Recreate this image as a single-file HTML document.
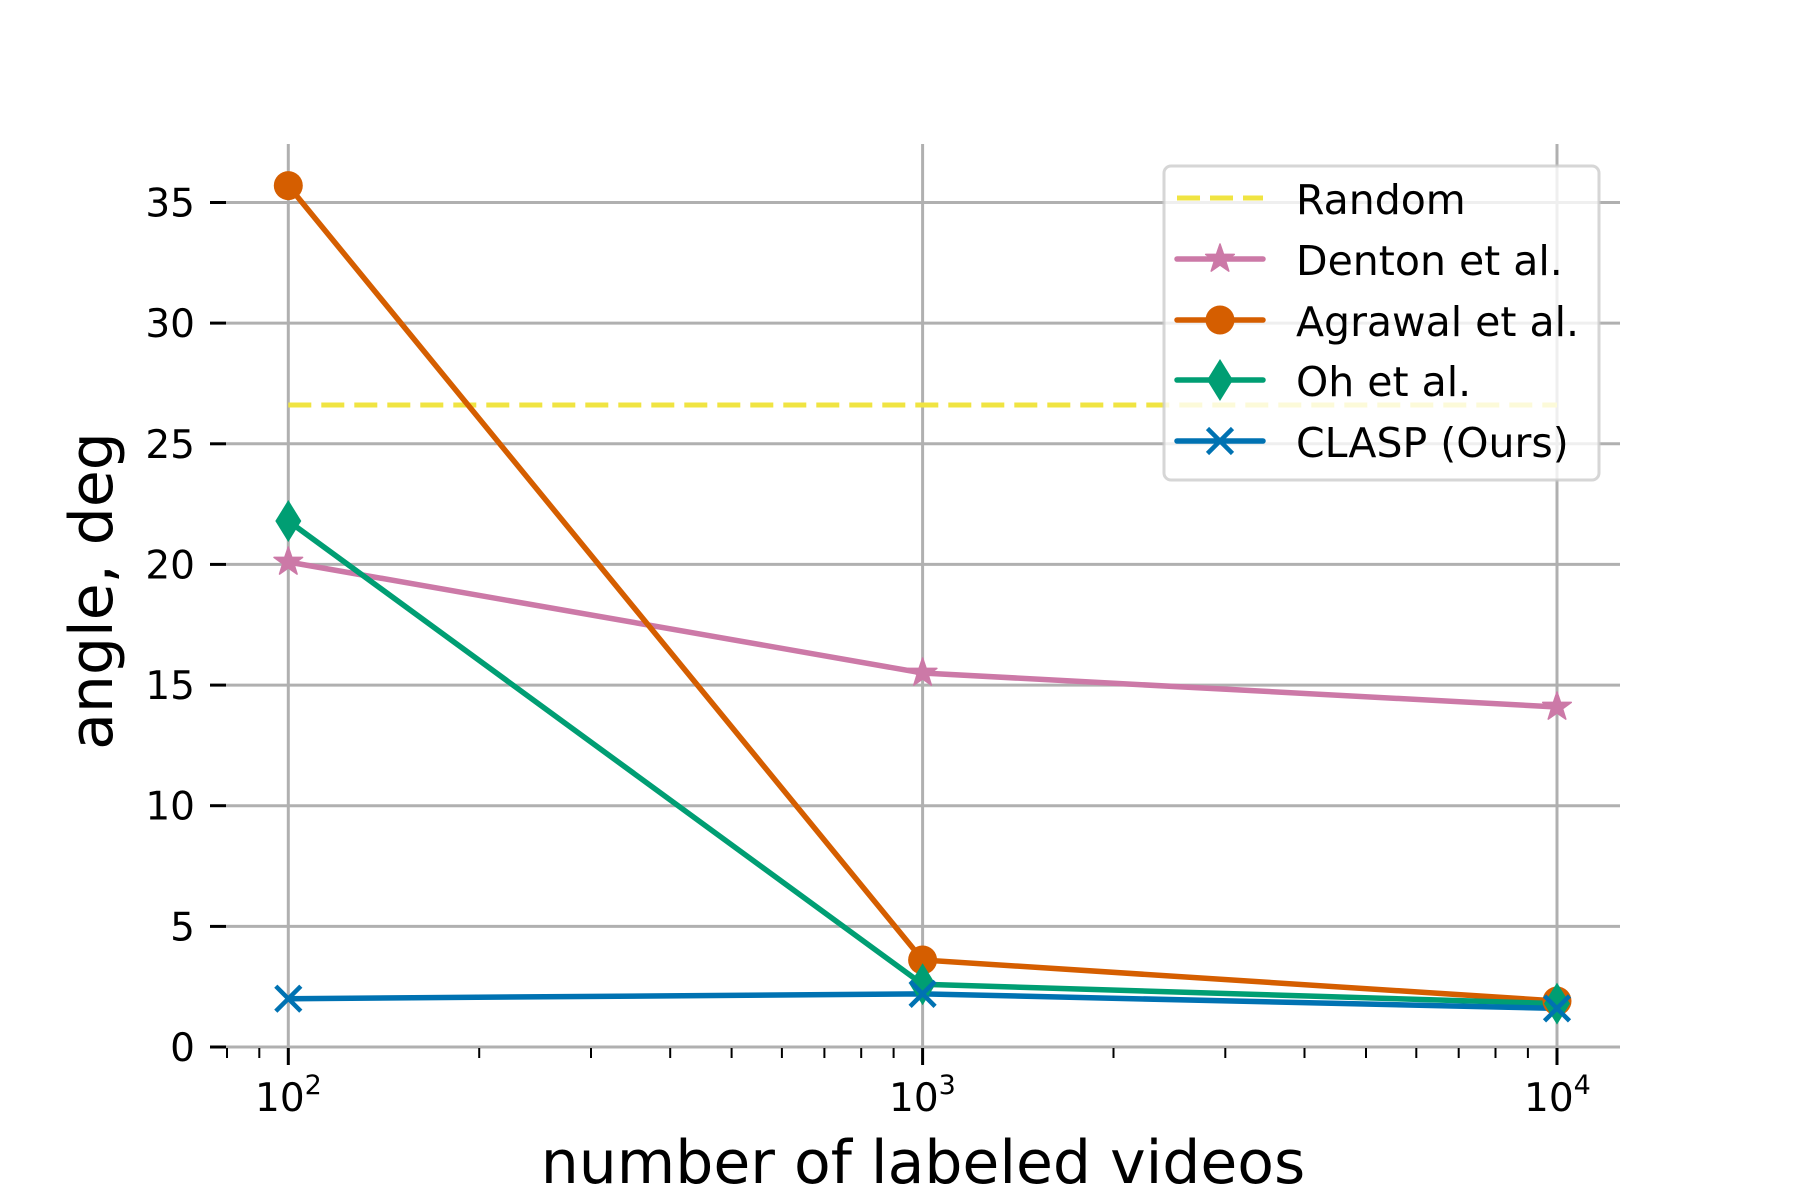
<!DOCTYPE html>
<html><head><meta charset="utf-8"><style>
html,body{margin:0;padding:0;background:#fff;}
svg{display:block;font-family:"DejaVu Sans","Liberation Sans",sans-serif;}
</style></head><body>
<svg width="1800" height="1200" viewBox="0 0 1800 1200" xmlns="http://www.w3.org/2000/svg">
<rect width="1800" height="1200" fill="#fff"/>
<g stroke="#b0b0b0" stroke-width="3">
<line x1="226" y1="1047" x2="1620" y2="1047"/>
<line x1="226" y1="926.4" x2="1620" y2="926.4"/>
<line x1="226" y1="805.7" x2="1620" y2="805.7"/>
<line x1="226" y1="685.1" x2="1620" y2="685.1"/>
<line x1="226" y1="564.4" x2="1620" y2="564.4"/>
<line x1="226" y1="443.8" x2="1620" y2="443.8"/>
<line x1="226" y1="323.1" x2="1620" y2="323.1"/>
<line x1="226" y1="202.5" x2="1620" y2="202.5"/>
<line x1="288.3" y1="144" x2="288.3" y2="1047"/>
<line x1="922.6" y1="144" x2="922.6" y2="1047"/>
<line x1="1557" y1="144" x2="1557" y2="1047"/>
</g>
<g stroke="#000" stroke-width="3">
<line x1="210" y1="1047" x2="226" y2="1047"/>
<line x1="210" y1="926.4" x2="226" y2="926.4"/>
<line x1="210" y1="805.7" x2="226" y2="805.7"/>
<line x1="210" y1="685.1" x2="226" y2="685.1"/>
<line x1="210" y1="564.4" x2="226" y2="564.4"/>
<line x1="210" y1="443.8" x2="226" y2="443.8"/>
<line x1="210" y1="323.1" x2="226" y2="323.1"/>
<line x1="210" y1="202.5" x2="226" y2="202.5"/>
</g>
<g stroke="#000" stroke-width="3">
<line x1="288.3" y1="1048" x2="288.3" y2="1065"/>
<line x1="922.6" y1="1048" x2="922.6" y2="1065"/>
<line x1="1557" y1="1048" x2="1557" y2="1065"/>
</g>
<g stroke="#000" stroke-width="2">
<line x1="227" y1="1048" x2="227" y2="1058"/>
<line x1="259.3" y1="1048" x2="259.3" y2="1058"/>
<line x1="479.2" y1="1048" x2="479.2" y2="1058"/>
<line x1="591" y1="1048" x2="591" y2="1058"/>
<line x1="670.2" y1="1048" x2="670.2" y2="1058"/>
<line x1="731.6" y1="1048" x2="731.6" y2="1058"/>
<line x1="781.9" y1="1048" x2="781.9" y2="1058"/>
<line x1="824.4" y1="1048" x2="824.4" y2="1058"/>
<line x1="861.2" y1="1048" x2="861.2" y2="1058"/>
<line x1="893.6" y1="1048" x2="893.6" y2="1058"/>
<line x1="1113.5" y1="1048" x2="1113.5" y2="1058"/>
<line x1="1225.3" y1="1048" x2="1225.3" y2="1058"/>
<line x1="1304.5" y1="1048" x2="1304.5" y2="1058"/>
<line x1="1366" y1="1048" x2="1366" y2="1058"/>
<line x1="1416.3" y1="1048" x2="1416.3" y2="1058"/>
<line x1="1458.7" y1="1048" x2="1458.7" y2="1058"/>
<line x1="1495.5" y1="1048" x2="1495.5" y2="1058"/>
<line x1="1527.9" y1="1048" x2="1527.9" y2="1058"/>
</g>
<g font-size="39" text-anchor="end" fill="#000">
<text x="195" y="1061">0</text>
<text x="195" y="940.4">5</text>
<text x="195" y="819.7">10</text>
<text x="195" y="699.1">15</text>
<text x="195" y="578.4">20</text>
<text x="195" y="457.8">25</text>
<text x="195" y="337.1">30</text>
<text x="195" y="216.5">35</text>
</g>
<g font-size="39" fill="#000">
<text x="255" y="1111">10<tspan font-size="27" dy="-17">2</tspan></text>
<text x="889" y="1111">10<tspan font-size="27" dy="-17">3</tspan></text>
<text x="1524" y="1111">10<tspan font-size="27" dy="-17">4</tspan></text>
</g>
<text x="923" y="1183" font-size="60" text-anchor="middle">number of labeled videos</text>
<text transform="translate(112,591) rotate(-90)" font-size="60" text-anchor="middle">angle, deg</text>
<line x1="288.3" y1="405" x2="1557" y2="405" stroke="#F0E442" stroke-width="5" stroke-dasharray="23,10"/>
<polyline points="288.3,562 922.6,673 1557,707" fill="none" stroke="#CC79A7" stroke-width="5.5"/>
<polyline points="288.3,185.6 922.6,960 1557,1001" fill="none" stroke="#D55E00" stroke-width="5.5"/>
<polyline points="288.3,521 922.6,984.3 1557,1003.6" fill="none" stroke="#009E73" stroke-width="5.5"/>
<polyline points="288.3,998.7 922.6,993.9 1557,1008.4" fill="none" stroke="#0072B2" stroke-width="5.5"/>
<defs>
<polygon id="star" points="0,-15 3.5,-4.8 14.3,-4.6 5.6,1.8 8.8,12.1 0,6 -8.8,12.1 -5.6,1.8 -14.3,-4.6 -3.5,-4.8" fill="#CC79A7" stroke="#CC79A7" stroke-width="1.5" stroke-linejoin="round"/>
<polygon id="dia" points="0,-21 13,0 0,21 -13,0" fill="#009E73"/>
<circle id="circ" r="14.5" fill="#D55E00"/>
<g id="xm" stroke="#0072B2" stroke-width="4.5"><line x1="-12.5" y1="-12.5" x2="12.5" y2="12.5"/><line x1="-12.5" y1="12.5" x2="12.5" y2="-12.5"/></g>
</defs>
<use href="#star" x="288.3" y="562"/><use href="#star" x="922.6" y="673"/><use href="#star" x="1557" y="707"/>
<use href="#circ" x="288.3" y="185.6"/><use href="#circ" x="922.6" y="960"/><use href="#circ" x="1557" y="1001"/>
<use href="#dia" x="288.3" y="521"/><use href="#dia" x="922.6" y="984.3"/><use href="#dia" x="1557" y="1003.6"/>
<use href="#xm" x="288.3" y="998.7"/><use href="#xm" x="922.6" y="993.9"/><use href="#xm" x="1557" y="1008.4"/>
<rect x="1164" y="166" width="435" height="314" rx="7" fill="#fff" fill-opacity="0.8" stroke="#cccccc" stroke-opacity="0.8" stroke-width="3"/>
<line x1="1177" y1="198" x2="1263" y2="198" stroke="#F0E442" stroke-width="5" stroke-dasharray="23,10"/>
<line x1="1177" y1="259" x2="1263" y2="259" stroke="#CC79A7" stroke-width="5.5" stroke-linecap="round"/>
<use href="#star" x="1220" y="259"/>
<line x1="1177" y1="320" x2="1263" y2="320" stroke="#D55E00" stroke-width="5.5" stroke-linecap="round"/>
<use href="#circ" x="1220" y="320"/>
<line x1="1177" y1="380" x2="1263" y2="380" stroke="#009E73" stroke-width="5.5" stroke-linecap="round"/>
<use href="#dia" x="1220" y="380"/>
<line x1="1177" y1="441" x2="1263" y2="441" stroke="#0072B2" stroke-width="5.5" stroke-linecap="round"/>
<use href="#xm" x="1220" y="441"/>
<g font-size="41" fill="#000">
<text x="1296" y="214">Random</text>
<text x="1296" y="275">Denton et al.</text>
<text x="1296" y="336">Agrawal et al.</text>
<text x="1296" y="396">Oh et al.</text>
<text x="1296" y="457">CLASP (Ours)</text>
</g>
</svg>
</body></html>
